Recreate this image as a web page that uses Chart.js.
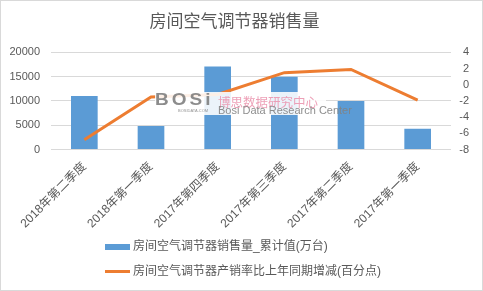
<!DOCTYPE html>
<html><head><meta charset="utf-8">
<script src="https://cdn.jsdelivr.net/npm/chart.js@4/dist/chart.umd.min.js"></script>
<style>
html,body{margin:0;padding:0;background:#fff;}
#wrap{position:relative;width:483px;height:291px;}
#frame{position:absolute;left:0;top:0;width:483px;height:291px;box-sizing:border-box;border:1px solid #d9d9d9;pointer-events:none;}
canvas{position:absolute;left:0;top:0;}
.leg{position:absolute;left:105px;font:12px "Liberation Sans","Noto Sans CJK SC",sans-serif;color:#595959;white-space:nowrap;}
.leg span.sw{display:inline-block;vertical-align:middle;margin-right:3px;}
.wm{position:absolute;white-space:nowrap;pointer-events:none;line-height:1;}
#wmbox{position:absolute;left:155px;top:92px;width:171px;height:23px;background:rgba(255,255,255,.88);pointer-events:none;}
</style></head>
<body>
<div id="wrap">
<canvas id="c" width="483" height="291"></canvas>
<div id="wmbox"></div>
<div class="wm" style="left:155px;top:91px;font:bold 19px 'Liberation Sans',sans-serif;color:rgba(120,120,120,.85);letter-spacing:3px;transform:scaleY(0.85);transform-origin:top left;">BOSi</div>
<div class="wm" style="left:178px;top:108px;font:4px 'Liberation Sans',sans-serif;color:rgba(120,120,120,.8);">BOSIDATA.COM</div>
<div class="wm" style="left:218px;top:92px;font:12.5px 'Noto Sans CJK SC';color:rgba(235,150,175,.9);">博思数据研究中心</div>
<div class="wm" style="left:218px;top:104px;font:11px 'Liberation Sans Narrow','Liberation Sans',sans-serif;color:rgba(130,130,130,.9);">Bosi Data Research Center</div>
<div class="leg" style="top:236px;"><span class="sw" style="width:25px;height:6px;background:#5B9BD5;"></span>房间空气调节器销售量_累计值(万台)</div>
<div class="leg" style="top:261px;"><span class="sw" style="width:25px;height:3px;background:#ED7D31;"></span>房间空气调节器产销率比上年同期增减(百分点)</div>
<div id="frame"></div>
</div>
<script>
const categories = ["2018年第二季度","2018年第一季度","2017年第四季度","2017年第三季度","2017年第二季度","2017年第一季度"];
const salesValues = [11000, 4850, 17100, 15000, 10000, 4300];
const rateValues = [-6.8, -1.5, -1.2, 1.5, 1.9, -1.9];
const seriesNames = ["房间空气调节器销售量_累计值(万台)","房间空气调节器产销率比上年同期增减(百分点)"];
const titleText = "房间空气调节器销售量";

const FONT = '"Liberation Sans","Noto Sans CJK SC",sans-serif';
new Chart(document.getElementById('c'), {
  data: {
    labels: categories,
    datasets: [
      {type:'line', label: seriesNames[1], data: rateValues, yAxisID:'y2', borderColor:'#ED7D31', borderWidth:3, pointRadius:0, tension:0, order:0},
      {type:'bar', label: seriesNames[0], data: salesValues, yAxisID:'y', backgroundColor:'#5B9BD5', categoryPercentage:1, barPercentage:0.4, order:1}
    ]
  },
  options: {
    responsive:false, animation:false,
    layout:{padding:{top:0,bottom:58,left:0,right:14}},
    plugins:{
      legend:{display:false},
      tooltip:{enabled:false},
      title:{display:true, text:titleText, color:'#595959', font:{family:FONT,size:17,weight:'normal'}, padding:{top:12,bottom:20}}
    },
    scales:{
      x:{grid:{display:false}, border:{display:false},
         ticks:{color:'#595959', font:{family:FONT,size:12}, maxRotation:45, minRotation:45, padding:2}},
      y:{position:'left', min:0, max:20000,
         ticks:{stepSize:5000, color:'#595959', font:{family:FONT,size:11}, padding:11, callback:v=>String(v)},
         grid:{color:'#d9d9d9', drawTicks:false}, border:{display:false},
         afterFit(s){s.width=51;}},
      y2:{position:'right', min:-8, max:4,
         ticks:{stepSize:2, autoSkip:false, color:'#595959', font:{family:FONT,size:11}, padding:4, crossAlign:'far', callback:v=>String(v)},
         grid:{display:false, drawTicks:false}, border:{display:false},
         afterFit(s){s.width=18;}}
    }
  }
});
</script>
</body></html>
